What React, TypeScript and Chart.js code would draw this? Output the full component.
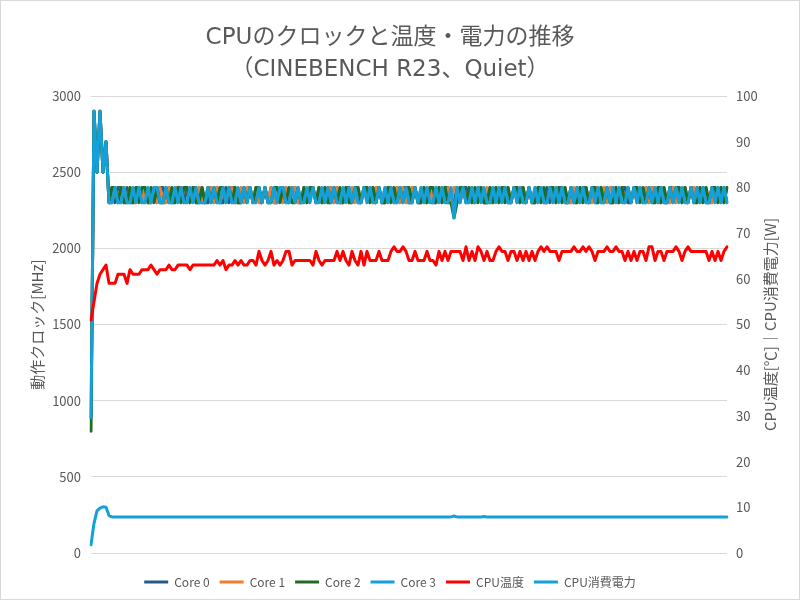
import React, { useEffect, useRef } from "react";
import { Chart, registerables } from "chart.js";

Chart.register(...registerables);

const titleLines = ["CPUのクロックと温度・電力の推移", "（CINEBENCH R23、Quiet）"];
const seriesNames = ["Core 0", "Core 1", "Core 2", "Core 3", "CPU温度", "CPU消費電力"];
const leftTicks = [0, 500, 1000, 1500, 2000, 2500, 3000];
const rightTicks = [0, 10, 20, 30, 40, 50, 60, 70, 80, 90, 100];
const leftAxisTitle = "動作クロック[MHz]";
const rightAxisTitle = "CPU温度[℃]｜CPU消費電力[W]";

const core0 = [
  890, 2900, 2500, 2900, 2500, 2700, 2300, 2400, 2300, 2400,
  2400, 2300, 2400, 2300, 2300, 2400, 2400, 2300, 2400, 2300,
  2300, 2400, 2300, 2400, 2400, 2300, 2400, 2300, 2300, 2400,
  2400, 2300, 2400, 2300, 2400, 2400, 2300, 2400, 2300, 2300,
  2400, 2300, 2400, 2300, 2300, 2400, 2300, 2400, 2400, 2300,
  2300, 2400, 2300, 2400, 2300, 2400, 2400, 2300, 2400, 2300,
  2400, 2300, 2300, 2400, 2300, 2400, 2300, 2400, 2400, 2300,
  2300, 2400, 2300, 2400, 2400, 2300, 2400, 2300, 2400, 2300,
  2400, 2300, 2400, 2300, 2300, 2400, 2400, 2300, 2400, 2300,
  2300, 2400, 2400, 2300, 2400, 2300, 2400, 2300, 2300, 2400,
  2400, 2300, 2400, 2300, 2400, 2400, 2300, 2300, 2400, 2300,
  2300, 2400, 2300, 2400, 2300, 2300, 2400, 2300, 2400, 2400,
  2300, 2300, 2400, 2300, 2400, 2400, 2300, 2400, 2300, 2400,
  2400, 2300, 2300, 2400, 2300, 2400, 2300, 2400, 2400, 2300,
  2300, 2400, 2400, 2300, 2400, 2300, 2400, 2300, 2300, 2400,
  2400, 2300, 2400, 2300, 2400, 2300, 2400, 2400, 2300, 2300,
  2400, 2300, 2400, 2300, 2400, 2400, 2300, 2400, 2300, 2300,
  2400, 2300, 2400, 2300, 2300, 2400, 2300, 2400, 2400, 2300,
  2300, 2400, 2300, 2400, 2300, 2400, 2300, 2400, 2300, 2400,
  2400, 2300, 2300, 2400, 2400, 2300, 2400, 2300, 2400, 2300,
  2400, 2300, 2400, 2300, 2400, 2300, 2300, 2400, 2300, 2400,
  2300, 2400, 2300,
];

const core1 = [
  890, 2900, 2500, 2900, 2500, 2700, 2300, 2300, 2400, 2300,
  2400, 2400, 2300, 2400, 2300, 2300, 2400, 2300, 2400, 2300,
  2300, 2400, 2300, 2400, 2300, 2300, 2400, 2300, 2400, 2400,
  2300, 2400, 2400, 2300, 2400, 2300, 2400, 2300, 2300, 2400,
  2400, 2300, 2400, 2300, 2400, 2300, 2400, 2400, 2300, 2300,
  2400, 2300, 2400, 2400, 2300, 2400, 2300, 2300, 2400, 2300,
  2400, 2300, 2300, 2400, 2300, 2400, 2300, 2400, 2400, 2300,
  2300, 2400, 2300, 2400, 2400, 2300, 2400, 2300, 2300, 2400,
  2400, 2300, 2400, 2300, 2300, 2400, 2300, 2400, 2300, 2400,
  2300, 2400, 2300, 2400, 2300, 2400, 2400, 2300, 2400, 2300,
  2400, 2300, 2400, 2300, 2400, 2300, 2300, 2400, 2400, 2300,
  2400, 2300, 2300, 2400, 2300, 2400, 2300, 2400, 2300, 2400,
  2300, 2400, 2400, 2300, 2400, 2300, 2400, 2300, 2300, 2400,
  2400, 2300, 2400, 2300, 2300, 2400, 2300, 2400, 2300, 2400,
  2300, 2400, 2300, 2400, 2400, 2300, 2400, 2300, 2400, 2300,
  2400, 2300, 2300, 2400, 2300, 2400, 2400, 2300, 2400, 2300,
  2300, 2400, 2300, 2400, 2300, 2400, 2300, 2300, 2400, 2400,
  2300, 2400, 2300, 2400, 2400, 2300, 2300, 2400, 2300, 2400,
  2300, 2400, 2300, 2400, 2300, 2400, 2300, 2400, 2400, 2300,
  2300, 2400, 2300, 2300, 2400, 2300, 2400, 2300, 2400, 2300,
  2400, 2400, 2300, 2400, 2300, 2400, 2300, 2300, 2400, 2300,
  2400, 2300, 2400,
];

const core2 = [
  800, 2900, 2500, 2900, 2500, 2700, 2300, 2400, 2400, 2300,
  2400, 2300, 2300, 2400, 2300, 2400, 2300, 2400, 2400, 2300,
  2400, 2300, 2400, 2300, 2300, 2400, 2300, 2400, 2300, 2400,
  2300, 2400, 2400, 2300, 2400, 2300, 2300, 2400, 2300, 2400,
  2300, 2400, 2300, 2400, 2400, 2300, 2400, 2300, 2400, 2300,
  2300, 2400, 2300, 2400, 2300, 2400, 2400, 2300, 2400, 2300,
  2300, 2400, 2400, 2300, 2400, 2300, 2400, 2300, 2300, 2400,
  2300, 2400, 2300, 2400, 2400, 2300, 2400, 2300, 2400, 2300,
  2300, 2400, 2300, 2400, 2300, 2400, 2300, 2300, 2400, 2400,
  2300, 2400, 2400, 2300, 2400, 2300, 2400, 2300, 2300, 2400,
  2300, 2400, 2300, 2400, 2300, 2400, 2400, 2300, 2400, 2300,
  2300, 2400, 2300, 2400, 2400, 2300, 2400, 2300, 2400, 2300,
  2300, 2200, 2300, 2400, 2400, 2300, 2400, 2300, 2400, 2300,
  2400, 2300, 2300, 2400, 2300, 2400, 2300, 2400, 2300, 2400,
  2300, 2400, 2400, 2300, 2400, 2300, 2400, 2300, 2300, 2400,
  2300, 2400, 2300, 2400, 2400, 2300, 2400, 2300, 2400, 2300,
  2400, 2300, 2300, 2400, 2300, 2400, 2300, 2400, 2400, 2300,
  2400, 2300, 2400, 2300, 2300, 2400, 2300, 2400, 2300, 2400,
  2300, 2400, 2400, 2300, 2400, 2300, 2400, 2300, 2300, 2400,
  2300, 2400, 2300, 2400, 2300, 2400, 2400, 2300, 2400, 2300,
  2400, 2300, 2300, 2400, 2300, 2400, 2300, 2400, 2400, 2300,
  2400, 2300, 2400,
];

const core3 = [
  890, 2900, 2500, 2900, 2500, 2700, 2300, 2300, 2400, 2300,
  2300, 2400, 2300, 2300, 2400, 2300, 2400, 2300, 2300, 2400,
  2300, 2400, 2400, 2300, 2300, 2400, 2300, 2300, 2400, 2300,
  2400, 2300, 2300, 2400, 2300, 2400, 2300, 2300, 2300, 2400,
  2300, 2400, 2300, 2300, 2400, 2300, 2400, 2300, 2300, 2400,
  2300, 2400, 2300, 2400, 2300, 2300, 2400, 2300, 2400, 2300,
  2300, 2400, 2300, 2400, 2400, 2300, 2300, 2400, 2300, 2400,
  2300, 2300, 2400, 2300, 2400, 2300, 2300, 2400, 2300, 2400,
  2300, 2400, 2300, 2300, 2400, 2300, 2400, 2300, 2400, 2300,
  2300, 2400, 2300, 2400, 2300, 2300, 2400, 2300, 2400, 2300,
  2400, 2300, 2300, 2400, 2300, 2400, 2300, 2300, 2400, 2300,
  2400, 2300, 2400, 2300, 2300, 2400, 2300, 2400, 2300, 2300,
  2400, 2200, 2400, 2300, 2400, 2300, 2300, 2400, 2300, 2400,
  2300, 2400, 2300, 2300, 2400, 2300, 2400, 2300, 2400, 2300,
  2300, 2400, 2300, 2400, 2300, 2300, 2400, 2300, 2400, 2300,
  2400, 2300, 2300, 2400, 2300, 2400, 2300, 2400, 2300, 2300,
  2400, 2300, 2400, 2300, 2400, 2300, 2300, 2400, 2300, 2400,
  2300, 2300, 2400, 2300, 2400, 2300, 2400, 2300, 2300, 2400,
  2300, 2400, 2300, 2400, 2300, 2300, 2400, 2300, 2400, 2300,
  2400, 2300, 2300, 2400, 2300, 2400, 2300, 2400, 2300, 2300,
  2400, 2300, 2400, 2300, 2400, 2300, 2300, 2400, 2300, 2400,
  2300, 2400, 2300,
];

const cpuTemp = [
  51, 55, 59, 61, 62, 63, 59, 59, 59, 61,
  61, 61, 59, 62, 61, 61, 61, 62, 62, 62,
  63, 62, 61, 62, 62, 62, 63, 62, 62, 63,
  63, 63, 63, 62, 63, 63, 63, 63, 63, 63,
  63, 63, 64, 63, 64, 62, 63, 63, 64, 63,
  64, 63, 63, 64, 64, 63, 66, 64, 63, 64,
  66, 63, 64, 63, 64, 66, 66, 63, 64, 64,
  64, 64, 64, 64, 63, 66, 64, 63, 64, 64,
  64, 64, 66, 64, 66, 64, 63, 66, 64, 63,
  66, 63, 66, 64, 64, 64, 66, 64, 64, 64,
  66, 67, 66, 66, 67, 66, 64, 64, 66, 64,
  64, 64, 66, 64, 64, 63, 66, 64, 66, 64,
  66, 66, 66, 66, 64, 67, 64, 66, 64, 67,
  66, 64, 66, 64, 64, 66, 67, 66, 66, 64,
  66, 66, 64, 66, 64, 66, 64, 66, 64, 66,
  67, 66, 67, 66, 66, 66, 64, 66, 66, 66,
  66, 67, 66, 66, 67, 66, 67, 66, 64, 66,
  66, 66, 67, 66, 66, 67, 66, 66, 64, 66,
  64, 66, 64, 66, 66, 64, 67, 67, 64, 66,
  66, 64, 66, 66, 66, 67, 66, 64, 66, 67,
  66, 66, 66, 66, 66, 66, 64, 66, 64, 66,
  64, 66, 67,
];

const cpuPower = [
  1.8, 6.5, 9.2, 9.8, 10.1, 10, 8.2, 7.9, 7.9, 7.9,
  7.9, 7.9, 7.9, 7.9, 7.9, 7.9, 7.9, 7.9, 7.9, 7.9,
  7.9, 7.9, 7.9, 7.9, 7.9, 7.9, 7.9, 7.9, 7.9, 7.9,
  7.9, 7.9, 7.9, 7.9, 7.9, 7.9, 7.9, 7.9, 7.9, 7.9,
  7.9, 7.9, 7.9, 7.9, 7.9, 7.9, 7.9, 7.9, 7.9, 7.9,
  7.9, 7.9, 7.9, 7.9, 7.9, 7.9, 7.9, 7.9, 7.9, 7.9,
  7.9, 7.9, 7.9, 7.9, 7.9, 7.9, 7.9, 7.9, 7.9, 7.9,
  7.9, 7.9, 7.9, 7.9, 7.9, 7.9, 7.9, 7.9, 7.9, 7.9,
  7.9, 7.9, 7.9, 7.9, 7.9, 7.9, 7.9, 7.9, 7.9, 7.9,
  7.9, 7.9, 7.9, 7.9, 7.9, 7.9, 7.9, 7.9, 7.9, 7.9,
  7.9, 7.9, 7.9, 7.9, 7.9, 7.9, 7.9, 7.9, 7.9, 7.9,
  7.9, 7.9, 7.9, 7.9, 7.9, 7.9, 7.9, 7.9, 7.9, 7.9,
  7.9, 8.1, 7.9, 7.9, 7.9, 7.9, 7.9, 7.9, 7.9, 7.9,
  7.9, 8.0, 7.9, 7.9, 7.9, 7.9, 7.9, 7.9, 7.9, 7.9,
  7.9, 7.9, 7.9, 7.9, 7.9, 7.9, 7.9, 7.9, 7.9, 7.9,
  7.9, 7.9, 7.9, 7.9, 7.9, 7.9, 7.9, 7.9, 7.9, 7.9,
  7.9, 7.9, 7.9, 7.9, 7.9, 7.9, 7.9, 7.9, 7.9, 7.9,
  7.9, 7.9, 7.9, 7.9, 7.9, 7.9, 7.9, 7.9, 7.9, 7.9,
  7.9, 7.9, 7.9, 7.9, 7.9, 7.9, 7.9, 7.9, 7.9, 7.9,
  7.9, 7.9, 7.9, 7.9, 7.9, 7.9, 7.9, 7.9, 7.9, 7.9,
  7.9, 7.9, 7.9, 7.9, 7.9, 7.9, 7.9, 7.9, 7.9, 7.9,
  7.9, 7.9, 7.9,
];

const seriesColors = ["#1f5c8b", "#ed7d31", "#1e6b24", "#14a0d8", "#ff0000", "#14a0d8"];

const FONT = "'Noto Sans CJK JP', 'Noto Sans', sans-serif";
const TITLE_FONT = "'DejaVu Sans', 'Noto Sans CJK JP', sans-serif";
const TEXT = "#595959";

const frame = {
  id: "frame",
  beforeDraw(chart: any) {
    const ctx = chart.ctx;
    ctx.save();
    ctx.fillStyle = "#ffffff";
    ctx.fillRect(0, 0, chart.width, chart.height);
    ctx.restore();
  },
  afterDraw(chart: any) {
    const ctx = chart.ctx;
    const area = chart.chartArea;
    ctx.save();
    // right axis title, reading bottom-to-top like the left one
    ctx.translate(770, (area.top + area.bottom) / 2);
    ctx.rotate(-Math.PI / 2);
    ctx.fillStyle = TEXT;
    ctx.font = "15px " + FONT;
    ctx.textAlign = "center";
    ctx.textBaseline = "middle";
    ctx.fillText(rightAxisTitle, 0, 0);
    ctx.restore();
    ctx.save();
    ctx.strokeStyle = "#d9d9d9";
    ctx.lineWidth = 1;
    ctx.strokeRect(0.5, 0.5, chart.width - 1, chart.height - 1);
    ctx.restore();
  },
};

export default function App() {
  const ref = useRef<HTMLCanvasElement | null>(null);

  useEffect(() => {
    document.body.style.margin = "0";
    const canvas = ref.current;
    if (!canvas) return;
    const labels = cpuTemp.map((_, i) => String(i));
    const allSeries = [core0, core1, core2, core3, cpuTemp, cpuPower];
    const orders = [5, 4, 3, 2, 1, 0];
    const datasets = allSeries.map((data, k) => ({
      label: seriesNames[k],
      data,
      yAxisID: k >= 4 ? "y1" : "y",
      borderColor: seriesColors[k],
      backgroundColor: seriesColors[k],
      borderWidth: 3,
      pointRadius: 0,
      pointHoverRadius: 0,
      pointStyle: "line",
      tension: 0,
      borderJoinStyle: "round" as const,
      borderCapStyle: "round" as const,
      order: orders[k],
    }));

    const chart = new Chart(canvas, {
      type: "line",
      data: { labels, datasets },
      plugins: [frame],
      options: {
        responsive: false,
        animation: false,
        events: [],
        layout: { padding: { left: 0, right: 20, top: 0, bottom: 2 } },
        plugins: {
          title: {
            display: true,
            text: titleLines,
            color: TEXT,
            font: { family: TITLE_FONT, size: 23, weight: "normal", lineHeight: 1.4 },
            padding: { top: 22, bottom: 9.6 },
          },
          legend: {
            position: "bottom",
            labels: {
              color: TEXT,
              font: { family: FONT, size: 12 },
              usePointStyle: true,
              pointStyle: "line",
              pointStyleWidth: 24,
              padding: 10,
              sort: (a: any, b: any) => a.datasetIndex - b.datasetIndex,
            },
          },
          tooltip: { enabled: false },
        },
        scales: {
          x: {
            type: "category",
            offset: false,
            grid: { display: false },
            border: { display: false },
            ticks: { display: false },
            afterFit: (s: any) => { s.height = 13; },
          },
          y: {
            type: "linear",
            position: "left",
            min: 0,
            max: 3000,
            afterBuildTicks: (s: any) => { s.ticks = leftTicks.map((v) => ({ value: v })); },
            grid: { color: "#d9d9d9", lineWidth: 1, drawTicks: false },
            border: { display: false },
            ticks: {
              color: TEXT,
              font: { family: FONT, size: 13 },
              padding: 10,
              callback: (v: any) => String(v),
            },
            title: {
              display: true,
              text: leftAxisTitle,
              color: TEXT,
              font: { family: FONT, size: 15 },
              padding: { top: 28, bottom: 0 },
            },
            afterFit: (s: any) => { s.width = 91; },
          },
          y1: {
            type: "linear",
            position: "right",
            min: 0,
            max: 100,
            afterBuildTicks: (s: any) => { s.ticks = rightTicks.map((v) => ({ value: v })); },
            grid: { display: false, drawTicks: false },
            border: { display: false },
            ticks: {
              color: TEXT,
              font: { family: FONT, size: 13 },
              padding: 9,
              callback: (v: any) => String(v),
            },
            title: { display: false },
            afterFit: (s: any) => { s.width = 53; },
          },
        },
      },
    });
    return () => chart.destroy();
  }, []);

  return (
    <div style={{ width: 800, height: 600 }}>
      <canvas ref={ref} width={800} height={600} style={{ display: "block" }} />
    </div>
  );
}
